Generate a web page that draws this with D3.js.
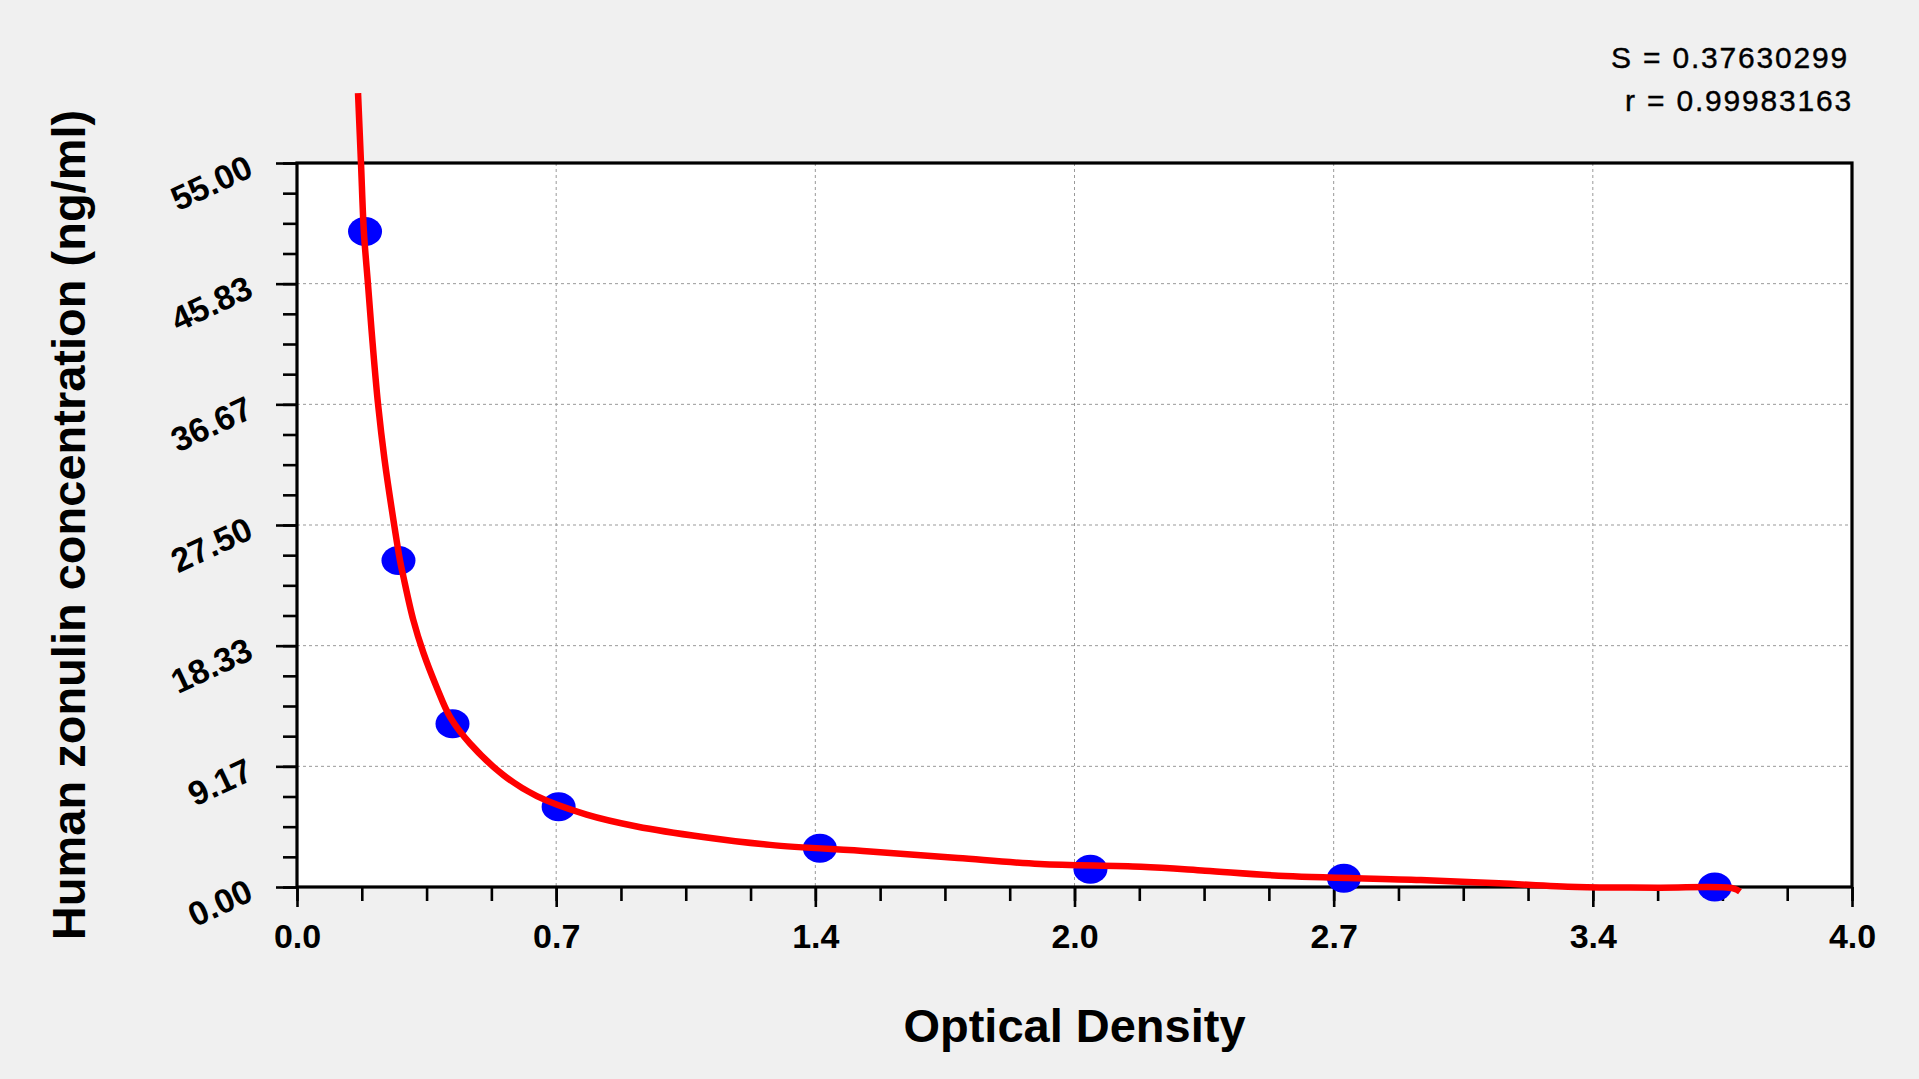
<!DOCTYPE html>
<html>
<head>
<meta charset="utf-8">
<script src="https://cdn.jsdelivr.net/npm/d3@7"></script>
<style>
  body { margin: 0; background: #f0f0f0; }
  text { font-family: "Liberation Sans", Arial, sans-serif; }
</style>
</head>
<body>
<div id="chart"></div>
<script>
// standard points (OD, concentration)
var stdOD = [0.175, 0.261, 0.400, 0.673, 1.345, 2.041, 2.693, 3.647];
var stdConc = [49.8, 24.8, 12.4, 6.1, 2.95, 1.35, 0.66, 0];

// fitted curve
var curveOD = [0.157, 0.1646, 0.172, 0.1825, 0.1945, 0.2085, 0.2255, 0.250, 0.265, 0.2735,
  0.299, 0.325, 0.359, 0.394, 0.445, 0.531, 0.617, 0.745, 0.874, 1.045, 1.217, 1.474,
  1.70, 1.911, 2.171, 2.336, 2.525, 2.891, 3.092, 3.293, 3.5, 3.694, 3.712];
var curveConc = [60.3, 55.0, 49.8, 45.83, 41.3, 36.67, 32.4, 27.5, 24.8, 23.6,
  20.3, 17.8, 15.2, 12.9, 10.9, 8.5, 6.9, 5.5, 4.6, 3.8, 3.2, 2.7,
  2.2, 1.75, 1.54, 1.24, 0.86, 0.53, 0.28, 0.0, -0.05, -0.1, -0.35];

// ticks
var xTickValues = [0, 0.6667, 1.3333, 2.0, 2.6667, 3.3333, 4.0];
var xTickLabels = ["0.0", "0.7", "1.4", "2.0", "2.7", "3.4", "4.0"];
var yTickValues = [0, 9.1667, 18.3333, 27.5, 36.6667, 45.8333, 55];
var yTickLabels = ["0.00", "9.17", "18.33", "27.50", "36.67", "45.83", "55.00"];

var width = 1919;
var height = 1079;
var plotLeft = 297, plotRight = 1852, plotTop = 163, plotBottom = 887;

var svg = d3.select("#chart")
  .append("svg")
  .attr("width", width)
  .attr("height", height);

svg.append("rect")
  .attr("width", width)
  .attr("height", height)
  .attr("fill", "#f0f0f0");

var xScale = d3.scaleLinear().domain([0, 4]).range([plotLeft, plotRight]);
var yScale = d3.scaleLinear().domain([0, 55]).range([plotBottom, plotTop]);

// plot area
svg.append("rect")
  .attr("x", plotLeft)
  .attr("y", plotTop)
  .attr("width", plotRight - plotLeft)
  .attr("height", plotBottom - plotTop)
  .attr("fill", "#ffffff");

// grid
svg.append("g")
  .selectAll("line")
  .data(xTickValues.slice(1, -1))
  .enter()
  .append("line")
  .attr("x1", function (d) { return xScale(d); })
  .attr("x2", function (d) { return xScale(d); })
  .attr("y1", plotTop)
  .attr("y2", plotBottom)
  .attr("stroke", "#999999")
  .attr("stroke-width", 1)
  .attr("stroke-dasharray", "3,3");

svg.append("g")
  .selectAll("line")
  .data(yTickValues.slice(1, -1))
  .enter()
  .append("line")
  .attr("x1", plotLeft)
  .attr("x2", plotRight)
  .attr("y1", function (d) { return yScale(d); })
  .attr("y2", function (d) { return yScale(d); })
  .attr("stroke", "#999999")
  .attr("stroke-width", 1)
  .attr("stroke-dasharray", "3,3");

// minor ticks
var xMinor = d3.range(0, 25).map(function (i) { return i * 4 / 24; });
var yMinor = d3.range(0, 25).map(function (i) { return i * 55 / 24; });

svg.append("g")
  .attr("class", "xMinor")
  .attr("transform", "translate(0," + plotBottom + ")")
  .call(d3.axisBottom(xScale).tickValues(xMinor).tickSize(14).tickFormat("").tickSizeOuter(0));

svg.append("g")
  .attr("class", "yMinor")
  .attr("transform", "translate(" + plotLeft + ",0)")
  .call(d3.axisLeft(yScale).tickValues(yMinor).tickSize(14).tickFormat("").tickSizeOuter(0));

// major axes
var xAxis = d3.axisBottom(xScale)
  .tickValues(xTickValues)
  .tickSize(20)
  .tickSizeOuter(0)
  .tickFormat(function (d, i) { return xTickLabels[i]; });

var yAxis = d3.axisLeft(yScale)
  .tickValues(yTickValues)
  .tickSize(21)
  .tickSizeOuter(0)
  .tickFormat(function (d, i) { return yTickLabels[i]; });

var gx = svg.append("g")
  .attr("class", "xAxis")
  .attr("transform", "translate(0," + plotBottom + ")")
  .call(xAxis);

gx.selectAll("text")
  .attr("y", 61)
  .attr("dy", 0)
  .attr("font-size", 34)
  .attr("font-weight", "bold")
  .attr("fill", "#000");

var gy = svg.append("g")
  .attr("class", "yAxis")
  .attr("transform", "translate(" + plotLeft + ",0)")
  .call(yAxis);

gy.selectAll("text")
  .attr("x", 0)
  .attr("dy", 0)
  .attr("transform", "translate(-42,12) rotate(-25)")
  .attr("font-size", 34)
  .attr("font-weight", "bold")
  .attr("fill", "#000");

svg.selectAll(".tick line").attr("stroke", "#000").attr("stroke-width", 2.6);
svg.selectAll(".domain").remove();

// frame
svg.append("rect")
  .attr("x", plotLeft)
  .attr("y", plotTop)
  .attr("width", plotRight - plotLeft)
  .attr("height", plotBottom - plotTop)
  .attr("fill", "none")
  .attr("stroke", "#000")
  .attr("stroke-width", 3.2);

// points
svg.append("g")
  .selectAll("ellipse")
  .data(stdOD)
  .enter()
  .append("ellipse")
  .attr("cx", function (d) { return xScale(d); })
  .attr("cy", function (d, i) { return yScale(stdConc[i]); })
  .attr("rx", 17)
  .attr("ry", 14.5)
  .attr("fill", "#0000ff");

// curve
var line = d3.line()
  .x(function (d) { return xScale(d[0]); })
  .y(function (d) { return yScale(d[1]); })
  .curve(d3.curveCatmullRom.alpha(0.5));

svg.append("path")
  .datum(curveOD.map(function (d, i) { return [d, curveConc[i]]; }))
  .attr("d", line)
  .attr("fill", "none")
  .attr("stroke", "#ff0000")
  .attr("stroke-width", 6.5)
  .attr("stroke-linejoin", "round");

// axis titles
svg.append("text")
  .attr("x", (plotLeft + plotRight) / 2)
  .attr("y", 1042)
  .attr("text-anchor", "middle")
  .attr("font-size", 47)
  .attr("font-weight", "bold")
  .text("Optical Density");

svg.append("text")
  .attr("transform", "translate(85," + ((plotTop + plotBottom) / 2) + ") rotate(-90)")
  .attr("text-anchor", "middle")
  .attr("font-size", 47)
  .attr("font-weight", "bold")
  .text("Human zonulin concentration (ng/ml)");

// fit statistics
svg.append("text")
  .attr("x", 1849)
  .attr("y", 68)
  .attr("text-anchor", "end")
  .attr("font-size", 30)
  .attr("letter-spacing", 1.8)
  .attr("stroke", "#000")
  .attr("stroke-width", 0.4)
  .text("S = 0.37630299");

svg.append("text")
  .attr("x", 1853)
  .attr("y", 111)
  .attr("text-anchor", "end")
  .attr("font-size", 30)
  .attr("letter-spacing", 1.8)
  .attr("stroke", "#000")
  .attr("stroke-width", 0.4)
  .text("r = 0.99983163");
</script>
</body>
</html>
